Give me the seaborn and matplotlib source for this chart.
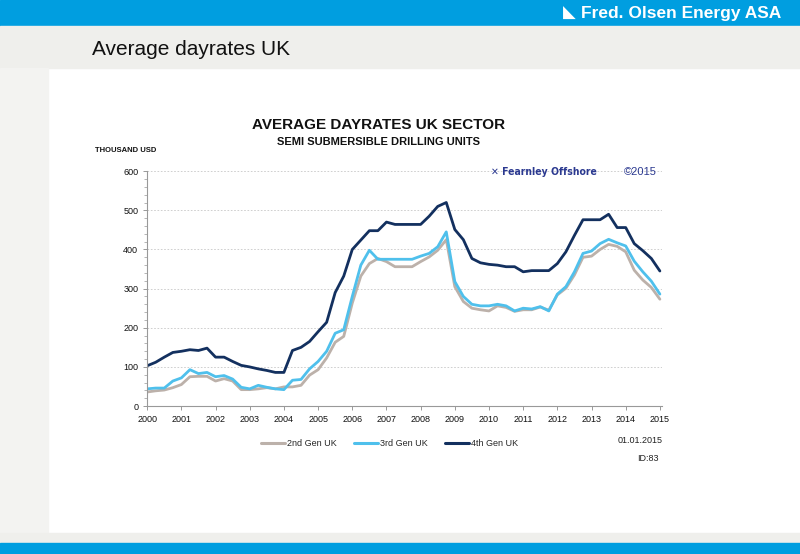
import numpy as np
import pandas as pd
import seaborn as sns
import matplotlib.pyplot as plt
from matplotlib.patches import Rectangle

# Quarterly average dayrates, thousand USD, 2000Q1 .. 2015Q1
gen4 = [103, 112, 125, 137, 140, 144, 142, 148, 125, 125, 114, 104,
        100, 95, 91, 86, 86, 142, 150, 165, 190, 214, 290, 332,
        400, 424, 448, 448, 470, 464, 464, 464, 464, 485, 510, 520,
        451, 425, 377, 366, 362, 360, 356, 356, 343, 346, 346, 346,
        364, 394, 436, 476, 476, 476, 490, 456, 456, 415, 397, 377, 345]
gen3 = [44, 46, 46, 64, 72, 93, 83, 86, 75, 78, 69, 48,
        44, 53, 48, 44, 42, 66, 68, 95, 114, 140, 186, 195,
        280, 360, 398, 375, 375, 375, 375, 375, 383, 390, 407, 445,
        318, 280, 260, 256, 256, 260, 256, 243, 250, 248, 254, 243,
        286, 305, 343, 390, 396, 415, 426, 417, 409, 370, 343, 319, 286]
gen2 = [36, 39, 41, 47, 55, 75, 76, 76, 64, 70, 64, 42,
        42, 44, 47, 44, 49, 49, 53, 79, 93, 123, 163, 178,
        263, 332, 364, 377, 369, 356, 356, 356, 369, 381, 398, 425,
        305, 267, 250, 246, 243, 256, 252, 242, 246, 246, 253, 245,
        284, 301, 335, 380, 383, 400, 413, 408, 394, 347, 322, 303, 273]
years = list(range(2000, 2016))
series_names = ["2nd Gen UK", "3rd Gen UK", "4th Gen UK"]
colors = ["#bcb1aa", "#4fc0ec", "#13305f"]

quarters = 2000 + np.arange(len(gen4)) * 0.25
df = pd.concat([
    pd.DataFrame({"date": quarters, "rate": vals, "series": name})
    for name, vals in zip(series_names, [gen2, gen3, gen4])
])

sns.set_theme(style="white")
plt.rcParams['font.family'] = ['Liberation Sans', 'DejaVu Sans']

fig = plt.figure(figsize=(8, 5.54), dpi=100)

# slide background
fig.add_artist(Rectangle((0, 0.953), 1, 0.047, transform=fig.transFigure, color="#009ee0", zorder=0))
fig.add_artist(Rectangle((0, 0.877), 1, 0.076, transform=fig.transFigure, color="#efefec", zorder=0))
fig.add_artist(Rectangle((0, 0.038), 0.06, 0.839, transform=fig.transFigure, color="#f3f3f1", zorder=0))
fig.add_artist(Rectangle((0, 0.019), 1, 0.019, transform=fig.transFigure, color="#efefec", zorder=0))
fig.add_artist(Rectangle((0, 0), 1, 0.019, transform=fig.transFigure, color="#009ee0", zorder=0))
fig.text(0.977, 0.976, "Fred. Olsen Energy ASA", color="white", fontsize=12.5,
         fontweight="bold", ha="right", va="center", stretch="condensed")
fig.text(0.72, 0.976, "◣", color="white", fontsize=12, ha="right", va="center",
         family=["DejaVu Sans"])
fig.text(0.115, 0.91, "Average dayrates UK", fontsize=15, ha="left", va="center", color="#111111")

# chart titles
fig.text(0.473, 0.774, "AVERAGE DAYRATES UK SECTOR", fontsize=11, fontweight="bold",
         ha="center", va="center", color="#111111")
fig.text(0.473, 0.744, "SEMI SUBMERSIBLE DRILLING UNITS", fontsize=8, fontweight="bold",
         ha="center", va="center", color="#111111")
fig.text(0.119, 0.729, "THOUSAND USD", fontsize=5.5, fontweight="bold",
         ha="left", va="center", color="#111111")

ax = fig.add_axes([0.184, 0.267, 0.643, 0.424])
sns.lineplot(data=df, x="date", y="rate", hue="series", palette=colors,
             linewidth=2.0, ax=ax, legend=False)

ax.set_xlim(2000, 2015.05)
ax.set_ylim(0, 600)
ax.set_xticks(years)
ax.set_xticklabels([str(y) for y in years])
ax.set_yticks(range(0, 601, 100))
ax.set_yticks(range(0, 601, 20), minor=True)
ax.set_xlabel("")
ax.set_ylabel("")
ax.grid(axis="y", color="#c8c8c8", linestyle=(0, (2, 2)), linewidth=0.6)
for side in ["top", "right"]:
    ax.spines[side].set_visible(False)
for side in ["left", "bottom"]:
    ax.spines[side].set_color("#999999")
    ax.spines[side].set_linewidth(0.8)
ax.tick_params(axis="both", which="major", labelsize=6.5, colors="#999999",
               labelcolor="#111111", length=3, width=0.7, direction="out",
               left=True, bottom=True)
ax.tick_params(axis="y", which="minor", length=2, width=0.5, colors="#999999", left=True)
ax.set_facecolor("none")

# source tag
ax.text(0.875, 0.997, "✕ Fearnley Offshore", transform=ax.transAxes, fontsize=7.5,
        fontweight="bold", color="#2b3990", ha="right", va="center",
        family=["DejaVu Sans"], stretch="condensed")
ax.text(0.99, 0.997, "©2015", transform=ax.transAxes, fontsize=8,
        color="#2b3990", ha="right", va="center")

# legend
handles = [plt.Line2D([], [], color=c, lw=2.2) for c in colors]
fig.legend(handles, series_names, loc="center", bbox_to_anchor=(0.487, 0.2),
           ncol=3, frameon=False, fontsize=6.5, handlelength=2.6, handletextpad=0.2,
           columnspacing=2.0)

fig.text(0.8, 0.204, "01.01.2015", fontsize=6.5, ha="center", va="center", color="#222222")
fig.text(0.81, 0.172, "ID:83", fontsize=6.5, ha="center", va="center", color="#222222")

fig.savefig("out.png", dpi=100)
